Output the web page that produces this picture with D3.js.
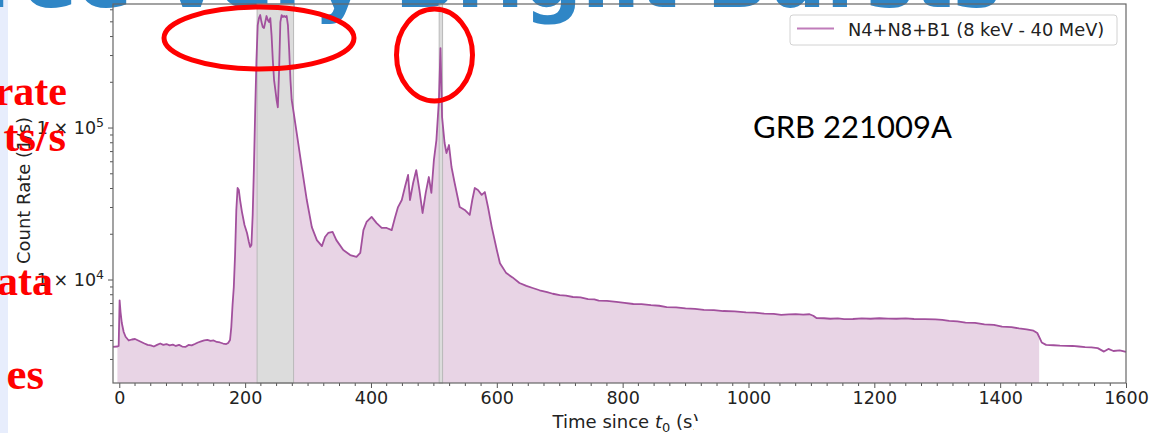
<!DOCTYPE html>
<html>
<head>
<meta charset="utf-8">
<script src="https://cdn.jsdelivr.net/npm/d3@7"></script>
<style>
  html, body { margin: 0; padding: 0; background: #ffffff; }
  svg { display: block; }
</style>
</head>
<body>
<svg id="chart" width="1150" height="433"></svg>
<script>
// Light curve: time since trigger (s) and summed count rate (counts/s)
const times = [-10, -3, -1, 0.5, 2, 4, 7, 10, 15, 20, 25, 30, 35, 40, 45, 50, 55, 60, 65, 70, 75, 80, 85, 90, 95, 100, 105, 110, 115, 120, 125, 130, 135, 140, 145, 150, 155, 160, 165, 170, 173, 176, 178, 180, 182, 184, 186, 188, 190, 192, 195, 199, 203, 206, 208, 210, 212, 214, 216, 218, 220, 222, 224, 226, 228, 230, 232, 234, 236, 238, 240, 242, 244, 246, 248, 250, 252, 254, 256, 258, 260, 262, 264, 266, 268, 270, 272, 274, 277, 282, 290, 298, 306, 314, 322, 327, 332, 339, 345, 356, 367, 377, 383, 388, 393, 401, 409, 417, 425, 433, 438, 443, 449, 454, 459, 462, 467, 472, 477, 482, 487, 492, 496, 500, 504, 508, 510.5, 513, 517, 520, 524, 528, 533, 541, 549, 557, 561, 565, 570, 576, 581, 586, 592, 600, 605, 615, 625, 636, 647, 657, 668, 680, 689, 700, 710, 721, 733, 745, 755, 762, 775, 790, 803, 817, 830, 845, 858, 870, 885, 900, 915, 929, 945, 960, 978, 996, 1010, 1025, 1040, 1052, 1064, 1075, 1087, 1097, 1103, 1108, 1120, 1130, 1142, 1152, 1166, 1180, 1194, 1208, 1222, 1235, 1250, 1263, 1280, 1297, 1308, 1319, 1332, 1345, 1360, 1375, 1390, 1403, 1418, 1430, 1442, 1453, 1459, 1462, 1466, 1473, 1485, 1495, 1505, 1515, 1525, 1535, 1545, 1555, 1565, 1572, 1580, 1590, 1600];
const rates = [3630, 3650, 3680, 7350, 6160, 5210, 4550, 4230, 4000, 4060, 4090, 4000, 3910, 3820, 3740, 3710, 3650, 3740, 3820, 3740, 3790, 3710, 3760, 3680, 3740, 3650, 3625, 3740, 3710, 3790, 3880, 3940, 4000, 4030, 3970, 4000, 3910, 3880, 3820, 3790, 3850, 4030, 4900, 6850, 9000, 14600, 28900, 40300, 39100, 33600, 28000, 23000, 20400, 17800, 16500, 17000, 26800, 55400, 131000, 280000, 476000, 529000, 554000, 498000, 462000, 455000, 498000, 546000, 514000, 498000, 529000, 409000, 280000, 207000, 178000, 153000, 137000, 241000, 498000, 554000, 538000, 546000, 538000, 546000, 476000, 326000, 207000, 153000, 127500, 92700, 55400, 33600, 22300, 18300, 16700, 19200, 20400, 20700, 18300, 15750, 14600, 14200, 15100, 21300, 24100, 26000, 23700, 22000, 22000, 21300, 25600, 30200, 33600, 40900, 49100, 33600, 43500, 52900, 39100, 27600, 37400, 47600, 37400, 61600, 83400, 152900, 336000, 118000, 79700, 68500, 77300, 55400, 43500, 30200, 28900, 26800, 33600, 40300, 39100, 36300, 37900, 30200, 22300, 15750, 12900, 11100, 10400, 9560, 9150, 8860, 8560, 8330, 8120, 7940, 7890, 7730, 7680, 7480, 7450, 7310, 7290, 7170, 7080, 6950, 6940, 6830, 6770, 6640, 6610, 6500, 6460, 6350, 6340, 6250, 6220, 6130, 6100, 6000, 5980, 5890, 5940, 5960, 5910, 5950, 5820, 5620, 5600, 5560, 5590, 5530, 5540, 5590, 5560, 5600, 5570, 5560, 5590, 5540, 5530, 5510, 5470, 5380, 5340, 5250, 5220, 5110, 5070, 4930, 4900, 4800, 4740, 4640, 4480, 4220, 3880, 3740, 3720, 3700, 3690, 3680, 3650, 3620, 3600, 3560, 3380, 3520, 3410, 3440, 3360];

// Source interval (shaded under the curve) and excluded intervals (grey bands)
const sourceInterval = [-3, 1462];
const badIntervals = [[219, 277], [508.4, 513.8]];

const xTickValues = [0, 200, 400, 600, 800, 1000, 1200, 1400, 1600];
const yTickValues = [1e4, 1e5];
const yTickExponents = ["4", "5"];
const legendLabel = "N4+N8+B1 (8 keV - 40 MeV)";
const burstName = "GRB 221009A";
const slideTitle = "Three Very Bright Bursts";
const sideNotes = ["rate", "ts/s", "ata", "es"];

const svg = d3.select("#chart");
const W = 1150, H = 433;
const plot = { left: 113, right: 1126, top: 4, bottom: 383 };

const x = d3.scaleLinear().domain([-10, 1600]).range([plot.left, plot.right]);
const y = d3.scaleLog().domain([2100, 655000]).range([plot.bottom, plot.top]);

const data = times.map((t, i) => ({ t, r: rates[i] }));

// slide background and side strip
svg.append("rect").attr("width", W).attr("height", H).attr("fill", "#ffffff");
svg.append("rect").attr("x", 0).attr("y", 0).attr("width", 8).attr("height", H).attr("fill", "#e7edfc");

// slide heading (mostly above the visible area)
svg.append("text")
  .attr("x", 1001).attr("y", 7)
  .attr("text-anchor", "end")
  .attr("font-family", "DejaVu Sans, sans-serif")
  .attr("font-weight", "bold")
  .attr("font-size", 81)
  .attr("fill", "#2f86c6")
  .text(slideTitle);

const g = svg.append("g");

// filled area under the light curve over the source interval
const inSource = data.filter(d => d.t >= sourceInterval[0] && d.t <= sourceInterval[1]);
g.append("path")
  .datum(inSource)
  .attr("fill", "#e8d4e5")
  .attr("d", d3.area().x(d => x(d.t)).y0(plot.bottom).y1(d => y(d.r)));

// excluded intervals
badIntervals.forEach(([a, b]) => {
  g.append("rect")
    .attr("x", x(a)).attr("y", plot.top)
    .attr("width", x(b) - x(a)).attr("height", plot.bottom - plot.top)
    .attr("fill", "#dcdcdc")
    .attr("stroke", "#b9b9b9").attr("stroke-width", 1);
});

// light curve
g.append("path")
  .datum(data)
  .attr("fill", "none")
  .attr("stroke", "#a2509d")
  .attr("stroke-width", 1.8)
  .attr("stroke-linejoin", "round")
  .attr("d", d3.line().x(d => x(d.t)).y(d => y(d.r)));

// axes
const axisColor = "#555555";
const xAxis = d3.axisBottom(x).tickValues(xTickValues).tickFormat(d3.format("d")).tickSize(5).tickPadding(4);
const xAx = svg.append("g").attr("transform", `translate(0,${plot.bottom})`).call(xAxis);
xAx.select(".domain").remove();
xAx.selectAll("line").attr("stroke", axisColor);
xAx.selectAll("text").attr("font-family", "DejaVu Sans, sans-serif").attr("font-size", 17.5).attr("fill", "#222");

const xMinor = d3.range(0, 1601, 25).filter(v => v % 200 !== 0);
svg.append("g").selectAll("line").data(xMinor).join("line")
  .attr("x1", d => x(d)).attr("x2", d => x(d))
  .attr("y1", plot.bottom).attr("y2", plot.bottom + 3)
  .attr("stroke", axisColor);

// y axis ticks (log)
const yMinor = [];
[1e3, 1e4, 1e5].forEach(dec => { for (let k = 2; k <= 9; k++) yMinor.push(k * dec); });
const yMinorIn = yMinor.filter(v => v >= 2100 && v <= 655000);
svg.append("g").selectAll("line").data(yMinorIn).join("line")
  .attr("x1", plot.left - 3).attr("x2", plot.left)
  .attr("y1", d => y(d)).attr("y2", d => y(d))
  .attr("stroke", axisColor);
svg.append("g").selectAll("line").data(yTickValues).join("line")
  .attr("x1", plot.left - 5).attr("x2", plot.left)
  .attr("y1", d => y(d)).attr("y2", d => y(d))
  .attr("stroke", axisColor);

yTickValues.forEach((v, i) => {
  const t = svg.append("text")
    .attr("x", plot.left - 9).attr("y", y(v) + 6)
    .attr("text-anchor", "end")
    .attr("font-family", "DejaVu Sans, sans-serif")
    .attr("font-size", 17.5).attr("fill", "#222");
  t.append("tspan").text("1 × 10");
  t.append("tspan").attr("dy", -7).attr("font-size", 12.5).text(yTickExponents[i]);
});

// spines
svg.append("rect")
  .attr("x", plot.left).attr("y", plot.top)
  .attr("width", plot.right - plot.left).attr("height", plot.bottom - plot.top)
  .attr("fill", "none").attr("stroke", "#666").attr("stroke-width", 1.2);

// axis labels
svg.append("text")
  .attr("transform", `translate(30,${(plot.top + plot.bottom) / 2 - 3}) rotate(-90)`)
  .attr("text-anchor", "middle")
  .attr("font-family", "DejaVu Sans, sans-serif")
  .attr("font-size", 18).attr("fill", "#222")
  .text("Count Rate (1/s)");

const xl = svg.append("text")
  .attr("x", 626).attr("y", 428)
  .attr("text-anchor", "middle")
  .attr("font-family", "DejaVu Sans, sans-serif")
  .attr("font-size", 18).attr("fill", "#222");
xl.append("tspan").text("Time since ");
xl.append("tspan").attr("font-style", "italic").text("t");
xl.append("tspan").attr("dy", 4).attr("font-size", 13).text("0");
xl.append("tspan").attr("dy", -4).text(" (s)");

// slide element covering the label's tail
svg.append("rect").attr("x", 694).attr("y", 421).attr("width", 40).attr("height", 12).attr("fill", "#ffffff");

// legend
const lg = svg.append("g");
lg.append("rect")
  .attr("x", 790).attr("y", 15).attr("width", 327).attr("height", 30).attr("rx", 3)
  .attr("fill", "#ffffff").attr("fill-opacity", 0.85)
  .attr("stroke", "#d2d2d2");
lg.append("line")
  .attr("x1", 797).attr("x2", 834).attr("y1", 28.5).attr("y2", 28.5)
  .attr("stroke", "#c07cba").attr("stroke-width", 2);
lg.append("text")
  .attr("x", 848).attr("y", 35.5)
  .attr("font-family", "DejaVu Sans, sans-serif")
  .attr("font-size", 17.8).attr("fill", "#222")
  .text(legendLabel);

// burst name
svg.append("text")
  .attr("x", 753).attr("y", 138)
  .attr("font-family", "Lato, sans-serif")
  .attr("font-size", 31).attr("fill", "#000")
  .text(burstName);

// highlight ellipses
svg.append("ellipse").attr("cx", 259).attr("cy", 38).attr("rx", 95).attr("ry", 31)
  .attr("fill", "none").attr("stroke", "#ff0000").attr("stroke-width", 5);
svg.append("ellipse").attr("cx", 434.5).attr("cy", 55).attr("rx", 38).attr("ry", 46)
  .attr("fill", "none").attr("stroke", "#ff0000").attr("stroke-width", 5);

// side notes (red)
const notePos = [[67, 105, 42], [66, 151, 45], [53, 295, 42], [44, 389, 45]];
sideNotes.forEach((s, i) => {
  svg.append("text")
    .attr("x", notePos[i][0]).attr("y", notePos[i][1])
    .attr("text-anchor", "end")
    .attr("font-family", "Liberation Serif, serif")
    .attr("font-weight", "bold")
    .attr("font-size", notePos[i][2]).attr("fill", "#ff0000")
    .text(s);
});
</script>
</body>
</html>
